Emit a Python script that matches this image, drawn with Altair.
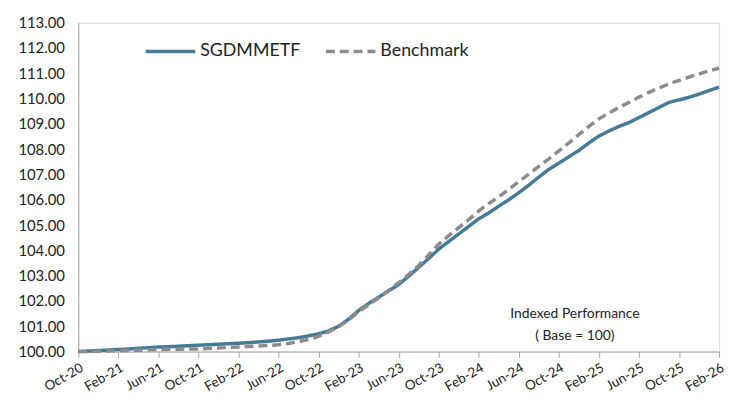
import altair as alt
import pandas as pd

# Month labels (every month, Oct-20 .. Feb-26)
months = pd.date_range("2020-10-01", "2026-02-01", freq="MS").strftime("%b-%y").tolist()

sgd_values = [
    100.00, 100.02, 100.04, 100.06, 100.08, 100.10, 100.13, 100.15, 100.18, 100.19,
    100.21, 100.23, 100.25, 100.27, 100.29, 100.31, 100.33, 100.35, 100.38, 100.41,
    100.45, 100.50, 100.55, 100.62, 100.70, 100.82, 101.00, 101.28, 101.62, 101.90,
    102.15, 102.40, 102.65, 102.98, 103.33, 103.68, 104.05, 104.35, 104.65, 104.95,
    105.25, 105.48, 105.75, 106.00, 106.28, 106.58, 106.90, 107.20, 107.45, 107.70,
    107.95, 108.25, 108.52, 108.72, 108.90, 109.05, 109.25, 109.45, 109.65, 109.85,
    109.95, 110.05, 110.18, 110.32, 110.45,
]

bench_values = [
    100.00, 100.00, 100.01, 100.02, 100.03, 100.04, 100.05, 100.07, 100.08, 100.09,
    100.09, 100.10, 100.10, 100.12, 100.14, 100.16, 100.18, 100.20, 100.22, 100.24,
    100.27, 100.32, 100.40, 100.48, 100.60, 100.78, 100.98, 101.25, 101.58, 101.85,
    102.12, 102.42, 102.72, 103.05, 103.40, 103.82, 104.25, 104.58, 104.90, 105.22,
    105.56, 105.85, 106.12, 106.42, 106.72, 107.02, 107.32, 107.62, 107.93, 108.25,
    108.58, 108.90, 109.20, 109.43, 109.65, 109.85, 110.06, 110.25, 110.42, 110.58,
    110.72, 110.85, 110.98, 111.10, 111.20,
]

series_names = ["SGDMMETF", "Benchmark"]
series_colors = ["#457B96", "#8C8C8C"]
tick_months = list(range(0, 65, 4))
y_ticks = list(range(100, 114))

annotation_lines = ["Indexed Performance", "( Base = 100)"]
annotation_x = [49.6, 49.6]
annotation_y = [101.5, 100.6]

rows = []
for i, m in enumerate(months):
    rows.append({"idx": i, "month": m, "series": series_names[0], "value": sgd_values[i]})
    rows.append({"idx": i, "month": m, "series": series_names[1], "value": bench_values[i]})
df = pd.DataFrame(rows)

ann_df = pd.DataFrame({"text": annotation_lines, "idx": annotation_x, "value": annotation_y})

label_expr = "[" + ",".join(f"'{m}'" for m in months) + "][datum.value]"

FONT = "Lato"

x_scale = alt.Scale(domain=[0, 64], nice=False, zero=False)
y_scale = alt.Scale(domain=[100, 113], nice=False, zero=False)

x_enc = alt.X(
    "idx:Q",
    scale=x_scale,
    axis=alt.Axis(
        values=tick_months,
        labelExpr=label_expr,
        labelAngle=330,
        labelAlign="right",
        labelBaseline="top",
        labelFontSize=13.5,
        labelColor="#222222",
        labelFont=FONT,
        labelPadding=3,
        labelOverlap=False,
        labelFlush=False,
        tickSize=6,
        tickColor="#A6A6A6",
        domainColor="#A6A6A6",
        grid=False,
        title=None,
    ),
)

y_enc = alt.Y(
    "value:Q",
    scale=y_scale,
    axis=alt.Axis(
        values=y_ticks,
        format=".2f",
        labelFontSize=15,
        labelColor="#222222",
        labelFont=FONT,
        labelPadding=14,
        labelOverlap=False,
        labelFlush=False,
        ticks=False,
        domainColor="#A6A6A6",
        grid=False,
        title=None,
    ),
)

legend_cfg = dict(
    orient="none",
    legendX=66,
    legendY=2,
    direction="horizontal",
    labelFont=FONT,
    labelFontSize=18,
    labelColor="#222222",
    symbolSize=2500,
    symbolStrokeWidth=3.5,
    columnPadding=18,
    labelOffset=3,
    labelLimit=300,
)

lines = alt.Chart(df).mark_line(strokeWidth=3.5).encode(
    x=x_enc,
    y=y_enc,
    color=alt.Color(
        "series:N",
        scale=alt.Scale(domain=series_names, range=series_colors),
        title=None,
        legend=alt.Legend(**legend_cfg),
    ),
    strokeDash=alt.StrokeDash(
        "series:N",
        scale=alt.Scale(domain=series_names, range=[[1, 0], [9, 5]]),
        title=None,
        legend=alt.Legend(**legend_cfg),
    ),
    order="idx:Q",
)

ann = alt.Chart(ann_df).mark_text(font=FONT, fontSize=14, color="#222222", align="center").encode(
    x=x_enc,
    y=y_enc,
    text="text:N",
)

chart = (
    alt.layer(lines, ann)
    .properties(width=647, height=332, padding={"top": 6, "left": 9, "right": 0, "bottom": 0})
    .configure_view(stroke=None)
    .configure(background="white")
)

chart.save("out.html", embed_options={"renderer": "svg", "actions": False})
